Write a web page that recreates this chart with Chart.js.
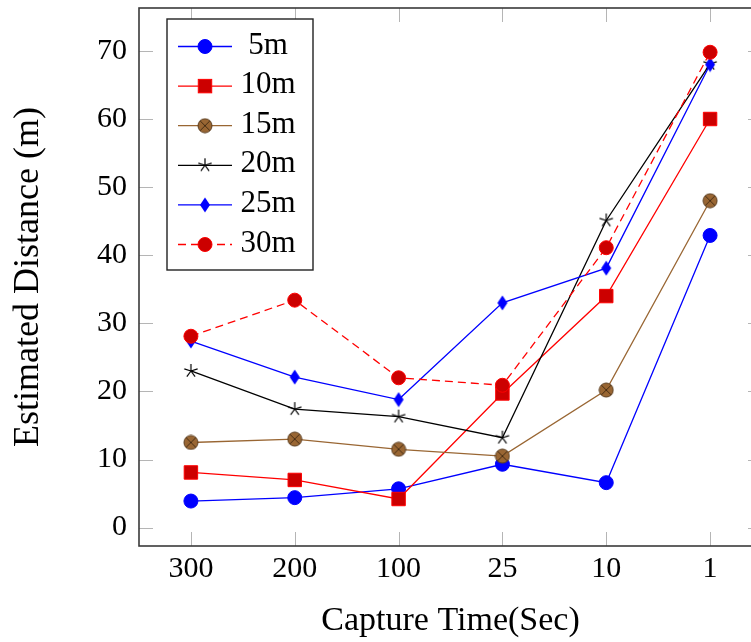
<!DOCTYPE html>
<html>
<head>
<meta charset="utf-8">
<script src="https://cdn.jsdelivr.net/npm/chart.js@4.4.1/dist/chart.umd.min.js"></script>
<style>
  html, body { margin: 0; padding: 0; background: #fff; overflow: hidden; }
  #wrap { width: 762px; height: 642px; }
  canvas { max-width: none !important; }
</style>
</head>
<body>
<div id="wrap"><canvas id="chart1" width="762" height="642"></canvas></div>
<script>
// values
const captureTimes = ["300", "200", "100", "25", "10", "1"];
const seriesNames = ["5m", "10m", "15m", "20m", "25m", "30m"];
const dist5m  = [3.9, 4.4, 5.7, 9.3, 6.6, 42.9];
const dist10m = [8.1, 7.0, 4.2, 19.7, 34.0, 60.0];
const dist15m = [12.5, 13.0, 11.5, 10.5, 20.2, 48.0];
const dist20m = [23.0, 17.4, 16.3, 13.2, 45.1, 68.1];
const dist25m = [27.4, 22.1, 18.8, 33.0, 38.1, 68.0];
const dist30m = [28.1, 33.4, 22.0, 20.9, 41.1, 69.8];
const yTickValues = [0, 10, 20, 30, 40, 50, 60, 70];

const FONT = "'Liberation Serif', 'DejaVu Serif', serif";
const BROWN = "rgb(153, 102, 51)";

// small marker canvases for the shapes Chart.js doesn't have
function mark_otimes() {
  const c = document.createElement("canvas");
  c.width = 16; c.height = 16;
  const g = c.getContext("2d");
  g.beginPath();
  g.arc(8, 8, 7, 0, Math.PI * 2);
  g.fillStyle = BROWN;
  g.fill();
  g.lineWidth = 1;
  g.strokeStyle = "rgb(90, 60, 30)";
  g.stroke();
  g.beginPath();
  const d = 4.9;
  g.moveTo(8 - d, 8 - d); g.lineTo(8 + d, 8 + d);
  g.moveTo(8 + d, 8 - d); g.lineTo(8 - d, 8 + d);
  g.strokeStyle = "rgb(70, 45, 20)";
  g.stroke();
  return c;
}

function mark_star() {
  const c = document.createElement("canvas");
  c.width = 16; c.height = 16;
  const g = c.getContext("2d");
  g.beginPath();
  for (let k = 0; k < 5; k++) {
    const a = -Math.PI / 2 + k * 2 * Math.PI / 5;
    g.moveTo(8, 8);
    g.lineTo(8 + 7 * Math.cos(a), 8 + 7 * Math.sin(a));
  }
  g.strokeStyle = "#000";
  g.lineWidth = 1.2;
  g.stroke();
  return c;
}

function mark_diamond() {
  const c = document.createElement("canvas");
  c.width = 12; c.height = 16;
  const g = c.getContext("2d");
  g.beginPath();
  g.moveTo(6, 0.5); g.lineTo(11, 8); g.lineTo(6, 15.5); g.lineTo(1, 8);
  g.closePath();
  g.fillStyle = "rgb(0, 0, 255)";
  g.fill();
  return c;
}

function make_series(label, data, color, opts) {
  return Object.assign({
    label: label,
    data: data,
    borderColor: color,
    borderWidth: 1.3,
    pointRadius: 7,
    pointBorderWidth: 1,
    pointBackgroundColor: color,
    pointBorderColor: color,
    tension: 0,
    fill: false,
  }, opts || {});
}

var datasets = [
  make_series(seriesNames[0], dist5m, "rgb(0, 0, 255)", { pointStyle: "circle" }),
  make_series(seriesNames[1], dist10m, "rgb(255, 0, 0)", { pointStyle: "rect", pointRadius: 9.5, pointBackgroundColor: "rgb(204, 0, 0)" }),
  make_series(seriesNames[2], dist15m, BROWN, { pointStyle: mark_otimes() }),
  make_series(seriesNames[3], dist20m, "#000", { pointStyle: mark_star() }),
  make_series(seriesNames[4], dist25m, "rgb(0, 0, 255)", { pointStyle: mark_diamond() }),
  make_series(seriesNames[5], dist30m, "rgb(255, 0, 0)", { pointStyle: "circle", borderDash: [8, 5], pointBackgroundColor: "rgb(204, 0, 0)" }),
];
// later series on top, as in the original
datasets.forEach((d, i) => { d.order = datasets.length - i; });

function draw_marker(ctx, ds, x, y) {
  const st = ds.pointStyle;
  ctx.save();
  ctx.setLineDash([]);
  if (st instanceof HTMLCanvasElement) {
    ctx.drawImage(st, x - st.width / 2, y - st.height / 2);
  } else if (st === "rect") {
    const s = Math.SQRT1_2 * ds.pointRadius;
    ctx.fillStyle = ds.pointBackgroundColor;
    ctx.strokeStyle = ds.pointBorderColor;
    ctx.lineWidth = ds.pointBorderWidth;
    ctx.fillRect(x - s, y - s, 2 * s, 2 * s);
    ctx.strokeRect(x - s, y - s, 2 * s, 2 * s);
  } else {
    ctx.beginPath();
    ctx.arc(x, y, ds.pointRadius, 0, Math.PI * 2);
    ctx.fillStyle = ds.pointBackgroundColor;
    ctx.fill();
    ctx.strokeStyle = ds.pointBorderColor;
    ctx.lineWidth = ds.pointBorderWidth;
    ctx.stroke();
  }
  ctx.restore();
}

// frame + inward tick marks (pgfplots style)
const frameTicks = {
  id: "frameTicks",
  beforeDatasetsDraw(chart) {
    const ctx = chart.ctx, a = chart.chartArea;
    const xs = chart.scales.x, ys = chart.scales.y;
    ctx.save();
    ctx.strokeStyle = "#b5b5b5";
    ctx.lineWidth = 1;
    ctx.beginPath();
    for (let i = 0; i < captureTimes.length; i++) {
      const px = Math.round(xs.getPixelForValue(i)) + 0.5;
      ctx.moveTo(px, a.bottom); ctx.lineTo(px, a.bottom - 14);
      ctx.moveTo(px, a.top); ctx.lineTo(px, a.top + 14);
    }
    yTickValues.forEach(v => {
      const py = Math.round(ys.getPixelForValue(v)) + 0.5;
      ctx.moveTo(a.left, py); ctx.lineTo(a.left + 14, py);
      ctx.moveTo(a.right, py); ctx.lineTo(a.right - 14, py);
    });
    ctx.stroke();
    ctx.restore();
  },
  afterDatasetsDraw(chart) {
    const ctx = chart.ctx, a = chart.chartArea;
    ctx.save();
    ctx.strokeStyle = "#3a3a3a";
    ctx.lineWidth = 1.6;
    ctx.strokeRect(a.left, a.top, a.right - a.left, a.bottom - a.top);
    ctx.restore();
  }
};

// legend box inside the plot, top left
const boxLegend = {
  id: "boxLegend",
  afterDraw(chart) {
    const ctx = chart.ctx;
    const bx = 167, by = 19, bw = 146, bh = 251;
    ctx.save();
    ctx.fillStyle = "#fff";
    ctx.fillRect(bx, by, bw, bh);
    ctx.strokeStyle = "#222";
    ctx.lineWidth = 1.4;
    ctx.strokeRect(bx, by, bw, bh);
    chart.data.datasets.forEach((ds, i) => {
      const y = 46.5 + i * 39.6;
      ctx.beginPath();
      ctx.setLineDash(ds.borderDash || []);
      ctx.strokeStyle = ds.borderColor;
      ctx.lineWidth = ds.borderWidth;
      ctx.moveTo(178, y); ctx.lineTo(232, y);
      ctx.stroke();
      ctx.setLineDash([]);
      draw_marker(ctx, ds, 205, y);
      ctx.fillStyle = "#000";
      ctx.font = "31px " + FONT;
      ctx.textAlign = "center";
      ctx.textBaseline = "middle";
      ctx.fillText(ds.label, 268, y - 1);
    });
    ctx.restore();
  }
};

const chart = new Chart(document.getElementById("chart1"), {
  type: "line",
  data: { labels: captureTimes, datasets: datasets },
  options: {
    responsive: false,
    devicePixelRatio: 1,
    animation: false,
    events: [],
    // the plot box runs past the right edge of the picture
    layout: { autoPadding: false, padding: { top: 8, right: 0, bottom: 0, left: 0 } },
    plugins: { legend: { display: false }, tooltip: { enabled: false } },
    scales: {
      x: {
        offset: true,
        grid: { display: false, drawTicks: false },
        border: { display: false },
        ticks: { color: "#000", font: { family: FONT, size: 30 }, padding: 5, maxRotation: 0 },
        title: { display: true, text: "Capture Time(Sec)", color: "#000", font: { family: FONT, size: 34 }, padding: { top: 0, bottom: 1 } },
        afterFit: (s) => { s.height = 96; s.paddingLeft = 0; s.paddingRight = 0; }
      },
      y: {
        min: -2.7,
        max: 76.3,
        grid: { display: false, drawTicks: false },
        border: { display: false },
        ticks: { stepSize: 10, includeBounds: false, color: "#000", font: { family: FONT, size: 30 }, padding: 12 },
        title: { display: true, text: "Estimated Distance (m)", color: "#000", font: { family: FONT, size: 36 }, padding: { top: 7, bottom: 0 } },
        afterFit: (s) => { s.width = 139; s.paddingTop = 0; s.paddingBottom = 0; }
      }
    }
  },
  plugins: [frameTicks, boxLegend]
});
</script>
</body>
</html>
